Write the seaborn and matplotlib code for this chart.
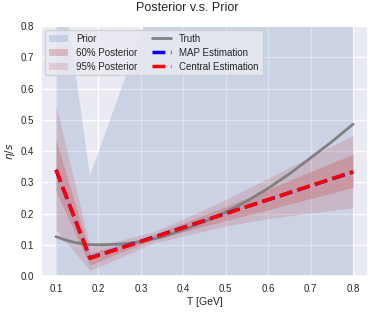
import seaborn as sns
import pandas as pd
import numpy as np
from matplotlib import pyplot as plt

# prior range of eta/s (piecewise linear, lower bound 0)
T_prior = [0.1, 0.18, 0.8]
prior_hi = [1.10, 0.32, 2.67]
prior_lo = [0.0, 0.0, 0.0]

# posterior bands
T_band = [0.10, 0.18, 0.25, 0.33, 0.40, 0.50, 0.60, 0.70, 0.80]
lo60 = [0.270, 0.035, 0.075, 0.116, 0.142, 0.178, 0.212, 0.248, 0.284]
hi60 = [0.435, 0.074, 0.100, 0.132, 0.170, 0.222, 0.278, 0.334, 0.390]
lo95 = [0.147, 0.018, 0.058, 0.106, 0.128, 0.160, 0.184, 0.202, 0.219]
hi95 = [0.547, 0.093, 0.114, 0.142, 0.183, 0.245, 0.313, 0.382, 0.451]

# estimates
T_est = [0.1, 0.18, 0.8]
map_est = [0.340, 0.058, 0.333]
central_est = [0.340, 0.057, 0.334]

# truth curve
T_truth = [0.10, 0.125, 0.15, 0.175, 0.20, 0.25, 0.30, 0.35, 0.40, 0.45, 0.50,
           0.55, 0.60, 0.65, 0.70, 0.75, 0.80]
truth = [0.126, 0.114, 0.106, 0.101, 0.100, 0.102, 0.110, 0.125, 0.148, 0.174,
         0.205, 0.240, 0.281, 0.327, 0.378, 0.430, 0.486]

sns.set_theme(style='darkgrid', font='Liberation Sans')
fs = 7

fig = plt.figure(figsize=(3.74, 3.13), dpi=100)
ax = fig.add_axes([0.11, 0.118, 0.874, 0.799])

c0 = sns.color_palette()[0]
c3 = sns.color_palette()[3]
ax.fill_between(T_prior, prior_lo, prior_hi, color=c0, alpha=0.2, lw=0, label='Prior')
ax.fill_between(T_band, lo60, hi60, color=c3, alpha=0.3, lw=0, label='60% Posterior')
ax.fill_between(T_band, lo95, hi95, color=c3, alpha=0.2, lw=0, label='95% Posterior')

df_truth = pd.DataFrame({'T': T_truth, 'v': truth})
df_est = pd.DataFrame({'T': T_est, 'map': map_est, 'central': central_est})
sns.lineplot(data=df_truth, x='T', y='v', ax=ax, color='gray', lw=2, label='Truth')
sns.lineplot(data=df_est, x='T', y='map', ax=ax, color='blue', lw=2.5, ls='--', label='MAP Estimation')
sns.lineplot(data=df_est, x='T', y='central', ax=ax, color='red', lw=2.5, ls='--',
             label='Central Estimation')

ax.set_xlim(0.065, 0.835)
ax.set_ylim(0, 0.8)
ax.set_xticks(np.arange(0.1, 0.81, 0.1))
ax.set_xlabel('T [GeV]', fontsize=fs + 0.5, labelpad=2)
ax.set_ylabel(r'$\eta/s$', fontsize=fs + 0.5, labelpad=3)
ax.tick_params(axis='x', labelsize=fs, length=0, pad=6)
ax.tick_params(axis='y', labelsize=fs, length=0, pad=5)
fig.suptitle('Posterior v.s. Prior', fontsize=9, y=0.995)
ax.legend(loc='upper left', ncol=2, fontsize=fs, columnspacing=1.5, labelspacing=0.4,
          borderaxespad=0.4)

fig.savefig('out.png')
